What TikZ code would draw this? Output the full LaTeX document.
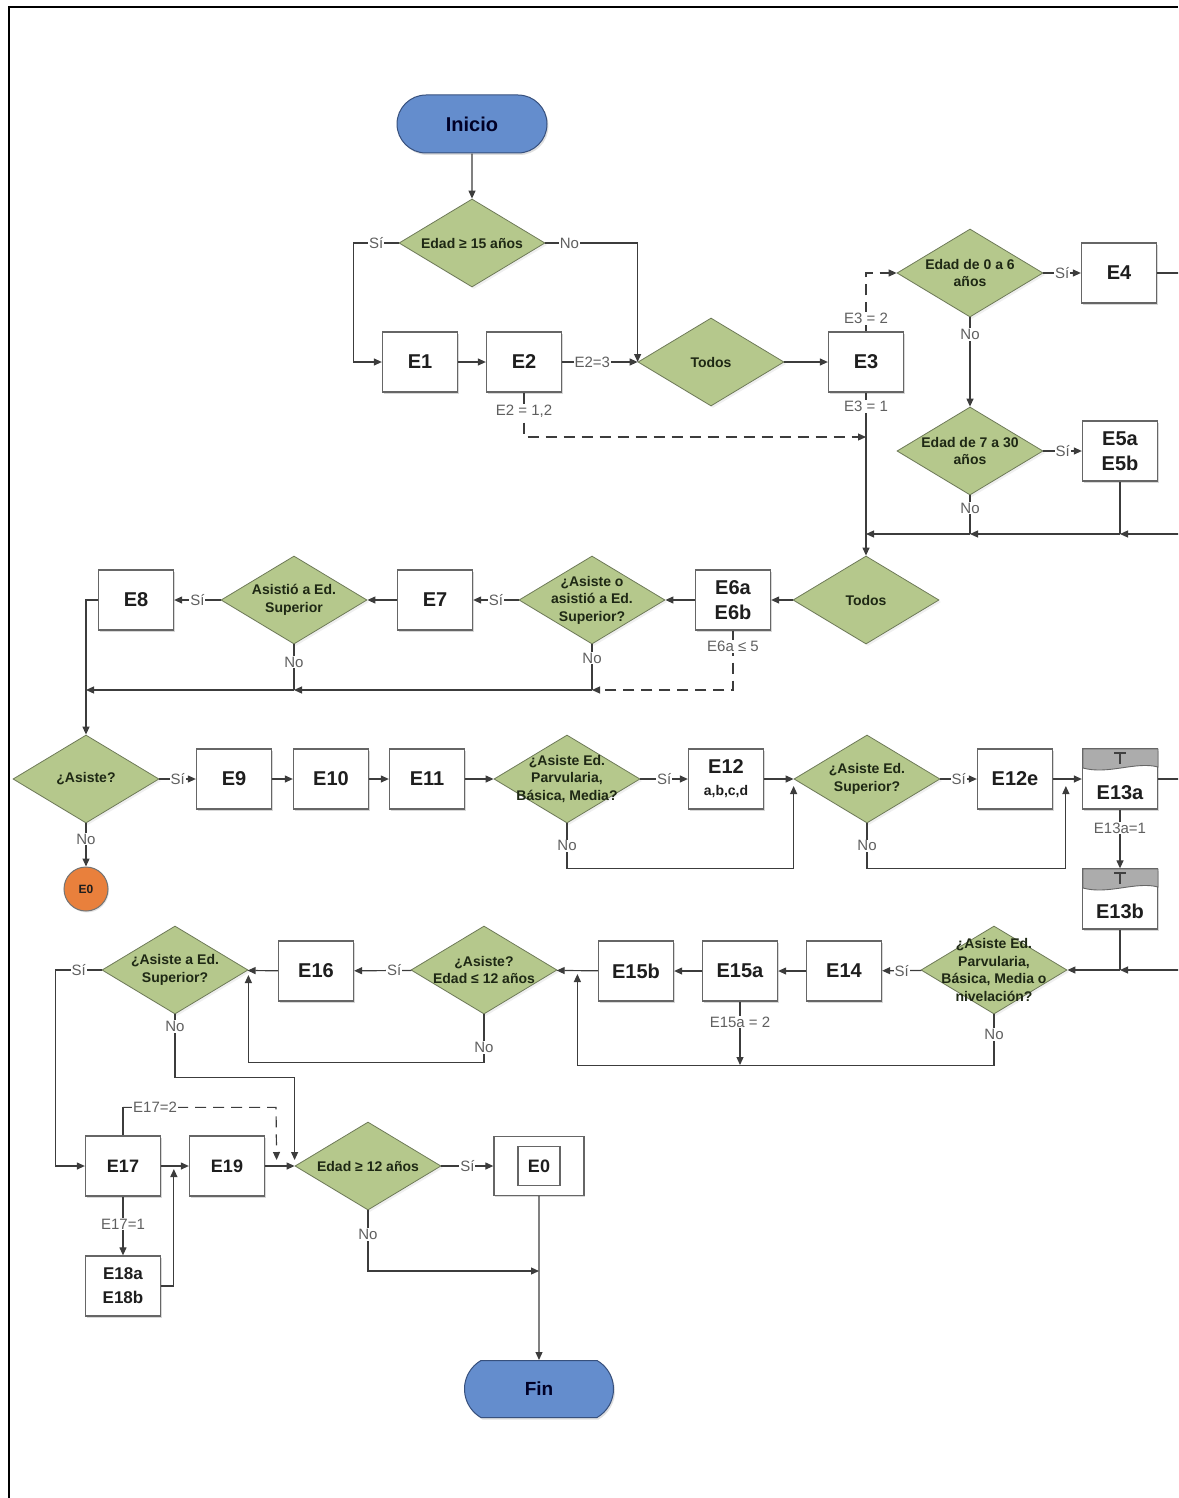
\documentclass[tikz,border=0pt]{standalone}
\usepackage{fontspec}
\setmainfont{Liberation Sans}
\usetikzlibrary{arrows.meta,shapes.geometric,shapes.misc,shadows,calc}
\definecolor{dgreen}{RGB}{181,200,140}
\definecolor{dgreenline}{RGB}{110,122,88}
\definecolor{tblue}{RGB}{100,141,205}
\definecolor{tblueline}{RGB}{55,80,125}
\definecolor{eorange}{RGB}{233,128,60}
\definecolor{lnc}{RGB}{60,60,60}
\definecolor{lblc}{RGB}{95,95,95}
\definecolor{bandgray}{RGB}{172,172,172}
\definecolor{txt}{RGB}{30,30,30}
\definecolor{dtxc}{RGB}{30,40,20}
\begin{document}
\begin{tikzpicture}[x=1pt,y=-1pt,
  ln/.style={draw=lnc, line width=1.2pt},
  arr/.style={ln, -{Triangle[length=8pt,width=7pt]}},
  dsh/.style={dash pattern=on 11pt off 7pt},
  box/.style={rectangle, draw=black!60, line width=1.3pt, fill=white,
    minimum width=75pt, minimum height=60pt, inner sep=0pt,
    font=\fontsize{20}{25}\selectfont\bfseries, text=txt, align=center,
    drop shadow={shadow xshift=1.2pt,shadow yshift=-1.6pt,fill=black!30}},
  dia/.style={diamond, draw=dgreenline, line width=0.8pt, fill=dgreen,
    minimum width=146pt, minimum height=88pt, inner sep=0pt,
    drop shadow={shadow xshift=2pt,shadow yshift=-2pt,fill=black!12}},
  dtx/.style={font=\fontsize{14}{17.5}\selectfont\bfseries, text=dtxc, align=center, inner sep=0pt},
  lbl/.style={font=\fontsize{15}{17}\selectfont, text=lblc, fill=white, inner sep=1pt},
  term/.style={rounded rectangle, draw=tblueline, line width=1pt, fill=tblue,
    minimum width=150pt, minimum height=58pt, inner sep=0pt,
    font=\fontsize{20}{22}\selectfont\bfseries, text=black!85!blue,
    drop shadow={shadow xshift=1.5pt,shadow yshift=-2pt,fill=black!25}},
  band/.style={fill=bandgray, draw=black!60, line width=0.9pt},
  tmark/.style={draw=black!75, line width=1.1pt}
]
\useasboundingbox (0,0) rectangle (1178,1498);
\begin{scope}
\clip (0,0) rectangle (1178,1498);
\draw[line width=2pt] (9,1498) -- (9,7) -- (1178,7);

% ---------- row 1 ----------
\node[term] (ini) at (472,124) {Inicio};
\node[dia, label={[dtx]center:Edad ≥ 15 años}] (d15) at (472,243) {};
\node[box] (E1) at (420,362) {E1};
\node[box] (E2) at (524,362) {E2};
\node[dia, label={[dtx]center:Todos}] (T1) at (711,362) {};
\node[box] (E3) at (866,362) {E3};
\node[dia, label={[dtx]center:{Edad de 0 a 6\\años}}] (d06) at (970,273) {};
\node[box] (E4) at (1119,273) {E4};
\node[dia, label={[dtx]center:{Edad de 7 a 30\\años}}] (d730) at (970,451) {};
\node[box] (E5) at (1120,451) {E5a\\E5b};

% ---------- row 2 ----------
\node[dia, label={[dtx]center:Todos}] (T2) at (866,600) {};
\node[box] (E6) at (733,600) {E6a\\E6b};
\node[dia, label={[dtx]center:{¿Asiste o\\asistió a Ed.\\Superior?}}] (dao) at (592,600) {};
\node[box] (E7) at (435,600) {E7};
\node[dia, label={[dtx]center:{Asistió a Ed.\\Superior}}] (das) at (294,600) {};
\node[box] (E8) at (136,600) {E8};

% ---------- row 3 ----------
\node[dia, label={[dtx]center:¿Asiste?}] (q) at (86,779) {};
\node[box] (E9) at (234,779) {E9};
\node[box] (E10) at (331,779) {E10};
\node[box] (E11) at (427,779) {E11};
\node[dia, label={[dtx]center:{¿Asiste Ed.\\Parvularia,\\Básica, Media?}}] (dp) at (567,779) {};
\node[box] (E12) at (726,779) {E12\\[-3pt]{\fontsize{14}{16}\selectfont a,b,c,d}};
\node[dia, label={[dtx]center:{¿Asiste Ed.\\Superior?}}] (dsu) at (867,779) {};
\node[box] (E12e) at (1015,779) {E12e};
\node[box, label={[font=\fontsize{20}{22}\selectfont\bfseries, text=txt, yshift=-14pt]center:E13a}] (E13a) at (1120,779) {};
\node[box, label={[font=\fontsize{20}{22}\selectfont\bfseries, text=txt, yshift=-12pt]center:E13b}] (E13b) at (1120,899) {};
\node[circle, draw=black!55, line width=1pt, fill=eorange, minimum size=44pt, inner sep=0pt,
  font=\fontsize{12}{14}\selectfont\bfseries, text=txt,
  drop shadow={shadow xshift=1pt,shadow yshift=-1.5pt,fill=black!20}] (E0c) at (86,889) {E0};

% bands of E13a / E13b
\filldraw[band] (1083,749) -- (1158,749) -- (1158,767) .. controls (1136,761) and (1108,775) .. (1083,768) -- cycle;
\draw[tmark] (1114,753) -- (1126,753) (1120,753) -- (1120,764);
\filldraw[band] (1083,869) -- (1158,869) -- (1158,887) .. controls (1136,881) and (1108,895) .. (1083,888) -- cycle;
\draw[tmark] (1114,873) -- (1126,873) (1120,873) -- (1120,884);

% ---------- row 4 ----------
\node[dia, label={[dtx]center:{¿Asiste Ed.\\Parvularia,\\Básica, Media o\\nivelación?}}] (dn) at (994,970) {};
\node[box] (E14) at (844,971) {E14};
\node[box] (E15a) at (740,971) {E15a};
\node[box] (E15b) at (636,971) {E15b};
\node[dia, label={[dtx]center:{¿Asiste?\\Edad ≤ 12 años}}] (de) at (484,970) {};
\node[box] (E16) at (316,971) {E16};
\node[dia, label={[dtx]center:{¿Asiste a Ed.\\Superior?}}] (ds2) at (175,970) {};

% ---------- row 5 ----------
\node[box, font=\fontsize{18}{22}\selectfont\bfseries] (E17) at (123,1166) {E17};
\node[box, font=\fontsize{18}{22}\selectfont\bfseries] (E19) at (227,1166) {E19};
\node[box, font=\fontsize{17}{24}\selectfont\bfseries] (E18) at (123,1286) {E18a\\E18b};
\node[dia, label={[dtx]center:Edad ≥ 12 años}] (d12) at (368,1166) {};
\node[box, minimum width=90pt, minimum height=59pt] (E0b) at (539,1166) {};
\node[rectangle, draw=black!60, line width=1.3pt, minimum width=42pt, minimum height=39pt, inner sep=0pt,
  font=\fontsize{18}{20}\selectfont\bfseries, text=txt] (E0i) at (539,1166) {E0};
\node[term, rounded rectangle arc length=120, minimum width=149pt, minimum height=57pt, font=\fontsize{19}{21}\selectfont\bfseries] (fin) at (539,1389) {Fin};

% ---------- coordinates ----------
\coordinate (j1) at (866,437);
\coordinate (jr) at (1200,534);
\coordinate (j5) at (1120,534);
\coordinate (j7) at (970,534);
\coordinate (j3) at (866,534);
\coordinate (j6) at (592,690);
\coordinate (j4) at (294,690);
\coordinate (j8) at (86,690);
\coordinate (jr2) at (1200,970);
\coordinate (j13) at (1120,970);
\coordinate (j15) at (740,1065);
\coordinate (jf) at (539,1271);

% ---------- connectors row 1 ----------
\draw[arr] (ini) -- (d15);
\draw[arr] (d15.west) -- node[lbl]{Sí} ++(-45,0) |- (E1.west);
\draw[arr] (d15.east) -| node[lbl,pos=0.13]{No} (T1.west);
\draw[arr] (E1) -- (E2);
\draw[arr] (E2) -- node[lbl,pos=0.4]{E2=3} (T1);
\draw[arr] (T1) -- (E3);
\draw[ln] (E2.south) -- ++(0,12) coordinate (c2);
\draw[arr,dsh] (c2) |- node[lbl,pos=0.1]{E2 = 1,2} (j1);
\draw[arr,dsh] (E3.north) |- node[lbl,pos=0.11]{E3 = 2} (d06.west);
\draw[arr] (E3.south) -- node[lbl,pos=0.085]{E3 = 1} (T2.north);
\draw[arr] (d06) -- node[lbl]{Sí} (E4);
\draw[arr] (d06.south) -- node[lbl,pos=0.19]{No} (d730.north);
\draw[arr] (d730) -- node[lbl]{Sí} (E5);
\draw[ln] (E4.east) -- ++(40,0);
\draw[arr] (jr) -- (j5);
\draw[ln] (E5.south) -- (j5);
\draw[arr] (j5) -- (j7);
\draw[ln] (d730.south) -- node[lbl,pos=0.33]{No} (j7);
\draw[arr] (j7) -- (j3);

% ---------- connectors row 2 ----------
\draw[arr] (T2) -- (E6);
\draw[arr] (E6) -- (dao);
\draw[ln] (E6.south) -- ++(0,14) coordinate (c6);
\draw[arr,dsh] (c6) |- node[lbl,pos=0.02]{E6a ≤ 5} (j6);
\draw[ln] (dao.south) -- node[lbl,pos=0.3]{No} (j6);
\draw[arr] (j6) -- (j4);
\draw[ln] (das.south) -- node[lbl,pos=0.39]{No} (j4);
\draw[arr] (j4) -- (j8);
\draw[arr] (dao) -- node[lbl]{Sí} (E7);
\draw[arr] (E7) -- (das);
\draw[arr] (das) -- node[lbl]{Sí} (E8);
\draw[arr] (E8.west) -| (q.north);

% ---------- connectors row 3 ----------
\draw[arr] (q) -- node[lbl]{Sí} (E9);
\draw[arr] (E9) -- (E10);
\draw[arr] (E10) -- (E11);
\draw[arr] (E11) -- (dp);
\draw[arr] (dp) -- node[lbl]{Sí} (E12);
\draw[arr] (E12) -- (dsu);
\draw[arr] (dp.south) -- node[lbl,pos=0.5]{No} ++(0,45) -| ($(dsu.west)+(0,7)$);
\draw[arr] (dsu) -- node[lbl]{Sí} (E12e);
\draw[arr] (E12e) -- (E13a);
\draw[arr] (dsu.south) -- node[lbl,pos=0.5]{No} ++(0,45) -| ($(E13a.west)+(-16,7)$);
\draw[ln] (E13a.east) -- ++(40,0);
\draw[arr] (E13a.south) -- node[lbl,pos=0.31]{E13a=1} (E13b.north);
\draw[arr] (q.south) -- node[lbl,pos=0.36]{No} (E0c.north);

% ---------- connectors row 4 ----------
\draw[arr] (jr2) -- (j13);
\draw[ln] (E13b.south) -- (j13);
\draw[arr] (j13) -- (dn.east);
\draw[arr] (dn) -- node[lbl]{Sí} (E14);
\draw[arr] (E14) -- (E15a);
\draw[arr] (E15a) -- (E15b);
\draw[arr] (E15b) -- (de);
\draw[arr] (E15a.south) -- node[lbl,pos=0.32]{E15a = 2} (j15);
\draw[arr] (dn.south) -- node[lbl,pos=0.39]{No} ++(0,51) -| ($(de.east)+(20,4)$);
\draw[arr] (de) -- node[lbl,pos=0.3]{Sí} (E16);
\draw[arr] (E16) -- (ds2);
\draw[arr] (de.south) -- node[lbl,pos=0.69]{No} ++(0,48) -| ($(ds2.east)+(0,5)$);
\draw[arr] (ds2.west) -- node[lbl]{Sí} ++(-46,0) |- (E17.west);
\draw[arr] (ds2.south) -- node[lbl,pos=0.19]{No} ++(0,63) -| ($(d12.west)+(0,-6)$);

% ---------- connectors row 5 ----------
\draw[ln] (E17.north) -- ++(0,-28) coordinate (c17);
\draw[arr,dsh] (c17) -- node[lbl,pos=0.21]{E17=2} ++(153,0) -- ($(d12.west)+(-18,-6)$);
\draw[arr] (E17) -- (E19);
\draw[arr] (E17.south) -- node[lbl,pos=0.47]{E17=1} (E18.north);
\draw[arr] (E18.east) -| ($(E19.west)+(-15,3)$);
\draw[arr] (E19) -- (d12);
\draw[arr] (d12) -- node[lbl]{Sí} (E0b);
\draw[arr] (d12.south) |- node[lbl,pos=0.2]{No} (jf);
\draw[arr] (E0b) -- (fin);
\end{scope}
\end{tikzpicture}
\end{document}
